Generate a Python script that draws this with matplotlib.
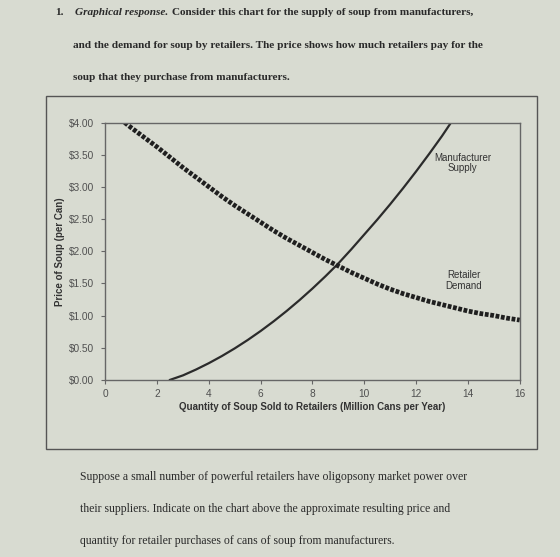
import matplotlib.pyplot as plt
from matplotlib.patches import Rectangle

# supply of soup from manufacturers (quantity in million cans, price in $)
supply_qty = [2.5, 3.0, 3.5, 4.0, 4.5, 5.0, 5.5, 6.0, 6.5, 7.0, 7.5, 8.0, 8.5, 9.0,
              9.5, 10.0, 10.5, 11.0, 11.5, 12.0, 12.5, 13.0, 13.35]
supply_price = [0.0, 0.07, 0.16, 0.26, 0.37, 0.49, 0.62, 0.76, 0.91, 1.07, 1.24, 1.42,
                1.61, 1.81, 2.03, 2.26, 2.49, 2.73, 2.98, 3.24, 3.51, 3.79, 4.0]

# demand for soup by retailers
demand_qty = [0.75, 1.0, 1.5, 2.0, 2.5, 3.0, 3.5, 4.0, 4.5, 5.0, 5.5, 6.0, 6.5, 7.0, 7.5,
              8.0, 8.5, 9.0, 9.5, 10.0, 10.5, 11.0, 11.5, 12.0, 12.5, 13.0, 13.5, 14.0,
              14.5, 15.0, 15.5, 16.0]
demand_price = [4.0, 3.92, 3.77, 3.62, 3.46, 3.3, 3.15, 3.0, 2.85, 2.71, 2.58, 2.45, 2.32,
                2.2, 2.09, 1.98, 1.87, 1.77, 1.67, 1.58, 1.49, 1.41, 1.34, 1.28, 1.22,
                1.17, 1.12, 1.07, 1.03, 1.0, 0.96, 0.93]

x_ticks = [0, 2, 4, 6, 8, 10, 12, 14, 16]
y_ticks = [0, 0.5, 1.0, 1.5, 2.0, 2.5, 3.0, 3.5, 4.0]
y_tick_labels = ["$%.2f" % v for v in y_ticks]

question_lines = [
    "and the demand for soup by retailers. The price shows how much retailers pay for the",
    "soup that they purchase from manufacturers.",
]
footer_lines = [
    "Suppose a small number of powerful retailers have oligopsony market power over",
    "their suppliers. Indicate on the chart above the approximate resulting price and",
    "quantity for retailer purchases of cans of soup from manufacturers.",
]

bg = '#d8dbd1'
ink = '#2a2a2a'
serif = 'Liberation Serif'
sans = 'Liberation Sans'

fig = plt.figure(figsize=(5.6, 5.57), dpi=100, facecolor=bg)
renderer = fig.canvas.get_renderer()

# question text above the chart, first line built from three pieces
fig.text(0.098, 0.978, "1.", family=serif, fontsize=8.1, weight='bold', color=ink, va='center')
t = fig.text(0.134, 0.978, "Graphical response.", family=serif, fontsize=8.1, weight='bold',
             style='italic', color=ink, va='center')
bb = t.get_window_extent(renderer).transformed(fig.transFigure.inverted())
fig.text(bb.x1 + 0.006, 0.978, "Consider this chart for the supply of soup from manufacturers,",
         family=serif, fontsize=8.1, weight='bold', color=ink, va='center')
for i, line in enumerate(question_lines):
    fig.text(0.130, 0.918 - i * 0.058, line, family=serif, fontsize=8.1, weight='bold',
             color=ink, va='center')

# outer chart frame
fig.patches.append(Rectangle((0.082, 0.193), 0.877, 0.635, transform=fig.transFigure,
                             fill=False, edgecolor='#555555', linewidth=1.0))

ax = fig.add_axes([0.188, 0.318, 0.740, 0.462], facecolor=bg)
ax.plot(supply_qty, supply_price, color='#2b2b2b', linewidth=1.6)
ax.plot(demand_qty, demand_price, color='#1f1f1f', linewidth=3.4,
        linestyle=(0, (0.8, 0.35)), dash_capstyle='butt')

ax.set_xlim(0, 16)
ax.set_ylim(0, 4)
ax.set_xticks(x_ticks)
ax.set_yticks(y_ticks)
ax.set_yticklabels(y_tick_labels)
ax.tick_params(axis='both', length=3, width=0.8, color='#666666', labelcolor='#505050',
               labelsize=7.3)
for lab in ax.get_yticklabels() + ax.get_xticklabels():
    lab.set_family(sans)
ax.tick_params(axis='y', pad=5)
for spine in ax.spines.values():
    spine.set_color('#666666')
    spine.set_linewidth(1.0)

ax.set_xlabel("Quantity of Soup Sold to Retailers (Million Cans per Year)", family=sans,
              fontsize=7, weight='bold', color='#333333', labelpad=2)
ax.set_ylabel("Price of Soup (per Can)", family=sans, fontsize=7, weight='bold',
              color='#333333', labelpad=3)

ax.text(13.8, 3.37, "Manufacturer\nSupply", family=sans, fontsize=7, color='#333333',
        ha='center', va='center', linespacing=1.1)
ax.text(13.85, 1.55, "Retailer\nDemand", family=sans, fontsize=7, color='#333333',
        ha='center', va='center', linespacing=1.1)

# follow-up question below the chart
for i, line in enumerate(footer_lines):
    fig.text(0.143, 0.143 - i * 0.057, line, family=serif, fontsize=8.5, color=ink,
             va='center')

fig.savefig('out.png', dpi=100, facecolor=bg)
